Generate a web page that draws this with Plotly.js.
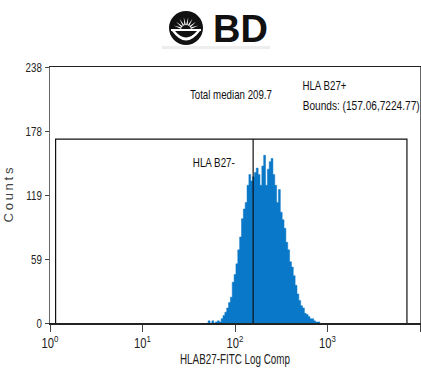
<!DOCTYPE html>
<html><head><meta charset="utf-8">
<script src="https://cdn.plot.ly/plotly-3.0.1.min.js"></script>
<style>html,body{margin:0;padding:0;background:#fff}#chart{width:421px;height:370px}</style>
</head><body><div id="chart"></div>
<script>
// histogram channels (log10 of fluorescence) and counts
const binLog10 = [1.70,1.72,1.74,1.76,1.78,1.80,1.82,1.84,1.86,1.88,1.90,1.92,1.94,1.96,1.98,
  2.00,2.02,2.04,2.06,2.08,2.10,2.12,2.14,2.16,2.18,2.20,2.22,2.24,2.26,2.28,2.30,2.32,2.34,2.36,2.38,
  2.40,2.42,2.44,2.46,2.48,2.50,2.52,2.54,2.56,2.58,2.60,2.62,2.64,2.66,2.68,2.70,2.72,2.74,2.76,2.78,
  2.80,2.82,2.84,2.86,2.88,2.90,2.92];
const counts = [0,2,0,2,0,1,2,1,4,7,10,14,19,24,38,
  45,55,68,80,97,106,112,128,138,132,136,140,144,138,128,146,156,128,143,150,
  153,138,128,112,124,103,96,88,75,68,57,52,44,35,27,21,16,14,9,8,
  6,4,4,2,1,1,1];
// gate (marker) values
const gateLow = 1.15;
const gateSplit = 157.06;
const gateHigh = 7224.77;
const gateCount = 171;
// axis ticks
const xTickVals = [1, 10, 100, 1000, 10000];
const xTickText = ['10<sup>0</sup>','10<sup>1</sup>','10<sup>2</sup>','10<sup>3</sup>','10<sup>4</sup>'];
const yTickVals = [0, 59.5, 119, 178.5, 238];
const yTickText = ['0','59','119','178','238'];
const yMax = 238;
// text labels
const labelTexts = ['Total median 209.7', 'HLA B27+', 'Bounds: (157.06,7224.77)', 'HLA B27-'];

const font = 'Liberation Sans, Arial, sans-serif';
const W = 421, H = 370, L = 50, R = 1, T = 67, B = 47;
const pw = W - L - R, ph = H - T - B;
const px = x => (x - L) / pw;
const py = y => (H - B - y) / ph;

const hist = {
  x: binLog10.map(v => Math.pow(10, v)), y: counts,
  type: 'scatter', mode: 'lines', line: {shape: 'hvh', width: 0.5, color: '#0a78c8'},
  fill: 'tozeroy', fillcolor: '#0a78c8', hoverinfo: 'skip', showlegend: false
};
const gate = {
  x: [gateLow, gateLow, gateHigh, gateHigh, null, gateSplit, gateSplit],
  y: [0, gateCount, gateCount, 0, null, 0, gateCount],
  type: 'scatter', mode: 'lines', line: {color: '#111', width: 1.2},
  hoverinfo: 'skip', showlegend: false, connectgaps: false
};

// logo shapes (decorative)
const cx = 186, cy = 28, r = 17;
const shapes = [
  {type: 'rect', xref: 'paper', yref: 'paper', x0: px(162), x1: px(270), y0: py(49), y1: py(46),
   fillcolor: '#eeeeee', line: {width: 0}, layer: 'below'},
  {type: 'circle', xref: 'paper', yref: 'paper', x0: px(cx - r), x1: px(cx + r), y0: py(cy + r), y1: py(cy - r),
   fillcolor: '#111', line: {width: 0}}
];
const rays = [-70, -50, -30, -10, 10, 30, 50, 70];
rays.forEach(a => {
  const rad = a * Math.PI / 180;
  const ox = cx, oy = cy + 2;
  const tipx = ox + Math.sin(rad) * 13, tipy = oy - Math.cos(rad) * 13;
  const w = 0.16;
  const b1x = ox + Math.sin(rad - w) * 5, b1y = oy - Math.cos(rad - w) * 5;
  const b2x = ox + Math.sin(rad + w) * 5, b2y = oy - Math.cos(rad + w) * 5;
  shapes.push({type: 'path', xref: 'paper', yref: 'paper',
    path: `M${px(b1x)},${py(b1y)} L${px(tipx)},${py(tipy)} L${px(b2x)},${py(b2y)} Z`,
    fillcolor: '#fff', line: {width: 0}});
});
shapes.push({type: 'path', xref: 'paper', yref: 'paper',
  path: `M${px(cx-14)},${py(cy+3)} Q${px(cx)},${py(cy+22)} ${px(cx+14)},${py(cy+3)} L${px(cx+11)},${py(cy+3)} Q${px(cx)},${py(cy+16)} ${px(cx-11)},${py(cy+3)} Z`,
  fillcolor: '#fff', line: {width: 0}});
shapes.push({type: 'path', xref: 'paper', yref: 'paper',
  path: `M${px(cx-15)},${py(cy+1)} L${px(cx+15)},${py(cy+1)} L${px(cx+15)},${py(cy+3)} L${px(cx-15)},${py(cy+3)} Z`,
  fillcolor: '#fff', line: {width: 0}});

// label placement: center x, center y, rendered width (px)
const labelPos = [[231, 94, 82], [324.5, 85, 44], [361, 105, 117], [214, 162, 42]];
const annotations = [
  {text: '<b>BD</b>', xref: 'paper', yref: 'paper', x: px(241), y: py(29), showarrow: false,
   font: {family: font, size: 38, color: '#111'}, xanchor: 'center', yanchor: 'middle'}
];
labelTexts.forEach((t, i) => annotations.push({
  text: t, xref: 'paper', yref: 'paper', x: px(labelPos[i][0]), y: py(labelPos[i][1]), showarrow: false,
  xanchor: 'center', yanchor: 'middle', font: {family: font, size: 13, color: '#111'}
}));

const layout = {
  width: W, height: H, margin: {l: L, r: R, t: T, b: B, pad: 0},
  paper_bgcolor: '#fff', plot_bgcolor: '#fff', showlegend: false,
  xaxis: {type: 'log', range: [0, 4], tickvals: xTickVals, ticktext: xTickText,
    ticks: 'outside', ticklen: 7, tickcolor: '#444', showgrid: false, zeroline: false,
    showline: true, linecolor: '#222', linewidth: 1.5, mirror: true,
    tickfont: {family: font, size: 14, color: '#222'},
    title: {text: 'HLAB27-FITC Log Comp', font: {family: font, size: 14, color: '#222'}, standoff: 4}},
  yaxis: {range: [0, yMax], tickvals: yTickVals, ticktext: yTickText,
    ticks: 'outside', ticklen: 4, tickcolor: '#444', showgrid: false, zeroline: false,
    showline: true, linecolor: '#666', linewidth: 1.5, mirror: true,
    tickfont: {family: font, size: 13, color: '#222'},
    title: {text: 'Counts', font: {family: font, size: 13, color: '#444'}, standoff: 3}},
  shapes: shapes, annotations: annotations
};
Plotly.newPlot('chart', [hist, gate], layout, {staticPlot: true, displayModeBar: false}).then(gd => {
  // condense texts to the narrow look of the original
  gd.querySelectorAll('.annotation-text').forEach(el => {
    const i = labelTexts.indexOf(el.textContent);
    if (i >= 0) {
      el.setAttribute('textLength', labelPos[i][2]);
      el.setAttribute('lengthAdjust', 'spacingAndGlyphs');
    }
  });
  const xt = gd.querySelector('.g-xtitle text');
  if (xt) { xt.setAttribute('textLength', 110); xt.setAttribute('lengthAdjust', 'spacingAndGlyphs'); }
  const yt = gd.querySelector('.g-ytitle text');
  if (yt) { yt.setAttribute('textLength', 55); yt.setAttribute('lengthAdjust', 'spacing'); }
  gd.querySelectorAll('.ytick text').forEach(el => {
    const w = el.getComputedTextLength();
    el.setAttribute('textLength', (w * 0.75).toFixed(1));
    el.setAttribute('lengthAdjust', 'spacingAndGlyphs');
  });
  gd.querySelectorAll('.xtick text').forEach(el => {
    const w = el.getComputedTextLength();
    el.setAttribute('textLength', (w * 0.8).toFixed(1));
    el.setAttribute('lengthAdjust', 'spacingAndGlyphs');
  });
});
</script></body></html>
